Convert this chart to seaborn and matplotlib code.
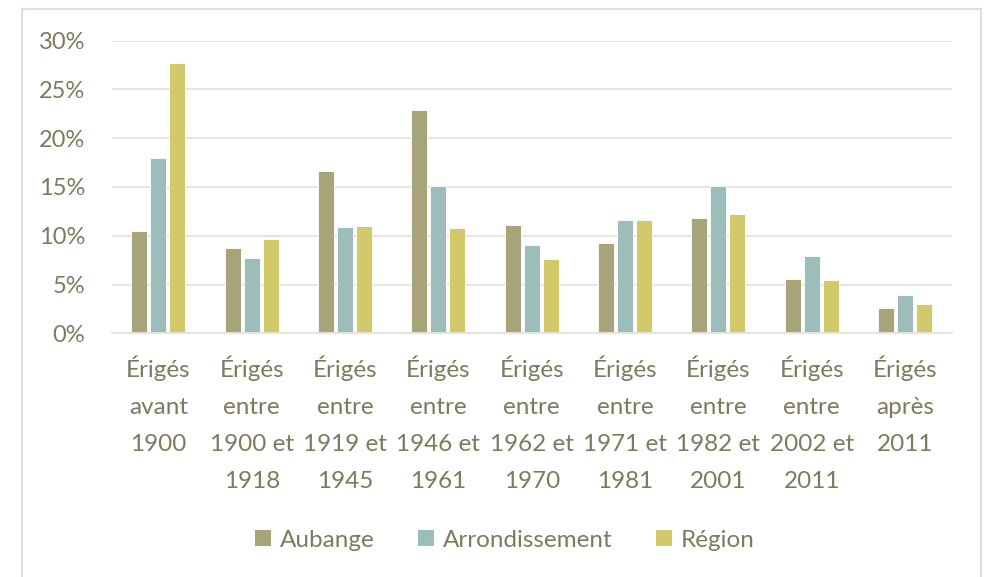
import textwrap
import matplotlib
matplotlib.use("Agg")
import matplotlib.pyplot as plt
from matplotlib.lines import Line2D
from matplotlib.patches import Patch
import pandas as pd
import seaborn as sns

categories = [
    "Érigés avant 1900",
    "Érigés entre 1900 et 1918",
    "Érigés entre 1919 et 1945",
    "Érigés entre 1946 et 1961",
    "Érigés entre 1962 et 1970",
    "Érigés entre 1971 et 1981",
    "Érigés entre 1982 et 2001",
    "Érigés entre 2002 et 2011",
    "Érigés après 2011",
]
series = ["Aubange", "Arrondissement", "Région"]
aubange = [10.5, 8.7, 16.6, 22.9, 11.1, 9.3, 11.8, 5.6, 2.6]
arrondissement = [18.0, 7.7, 10.9, 15.1, 9.0, 11.6, 15.1, 7.9, 3.9]
region = [27.7, 9.7, 11.0, 10.8, 7.6, 11.6, 12.2, 5.5, 3.0]
yticks = [0, 5, 10, 15, 20, 25, 30]

colors = ["#A8A47A", "#9DBDBB", "#D2C96A"]
text_color = "#7F7A5E"
grid_color = "#E5E3D9"

sns.set_theme(style="white")
plt.rcParams["font.family"] = ["Lato", "DejaVu Sans"]

rows = []
for name, vals in zip(series, [aubange, arrondissement, region]):
    for cat, v in zip(categories, vals):
        rows.append({"cat": cat, "serie": name, "val": v})
df = pd.DataFrame(rows)

fig = plt.figure(figsize=(9.86, 5.77), dpi=100)
ax = fig.add_axes([0.1133, 0.4224, 0.8519, 0.5071])

sns.barplot(data=df, x="cat", y="val", hue="serie", order=categories,
            hue_order=series, palette=colors, width=0.61, gap=0.16,
            edgecolor="white", linewidth=0.6, ax=ax, legend=False,
            errorbar=None, saturation=1)

ax.set_ylim(0, 30)
ax.set_yticks(yticks)
ax.set_yticklabels([f"{t}%" for t in yticks])
ax.set_xlim(-0.5, len(categories) - 0.5)
ax.set_xticks(range(len(categories)))
ax.set_xticklabels([textwrap.fill(c, 7) for c in categories], linespacing=1.95)
ax.set_xlabel("")
ax.set_ylabel("")
ax.yaxis.grid(True, color=grid_color, linewidth=1.3)
ax.set_axisbelow(True)
for s in ["top", "right", "left"]:
    ax.spines[s].set_visible(False)
ax.spines["bottom"].set_color(grid_color)
ax.spines["bottom"].set_linewidth(1.3)
ax.tick_params(axis="y", length=0, pad=19, labelsize=17, labelcolor=text_color)
ax.tick_params(axis="x", length=0, pad=16, labelsize=17.5, labelcolor=text_color)

handles = [Patch(facecolor=c, edgecolor="none") for c in colors]
fig.legend(handles, series, loc="center", bbox_to_anchor=(0.512, 0.064),
           ncol=3, frameon=False, fontsize=17.5, labelcolor=text_color,
           handlelength=0.66, handleheight=0.66, handletextpad=0.35,
           columnspacing=1.8)

# outer frame
W, H = 986, 577
fc = "#E2E0D6"
fig.add_artist(Line2D([21.5 / W, 21.5 / W], [0, 1 - 9 / H], color=fc, lw=1.6, transform=fig.transFigure))
fig.add_artist(Line2D([21.5 / W, 981 / W], [1 - 9 / H, 1 - 9 / H], color=fc, lw=1.6, transform=fig.transFigure))
fig.add_artist(Line2D([981 / W, 981 / W], [0, 1 - 9 / H], color=fc, lw=1.6, transform=fig.transFigure))

fig.savefig("out.png", dpi=100)
